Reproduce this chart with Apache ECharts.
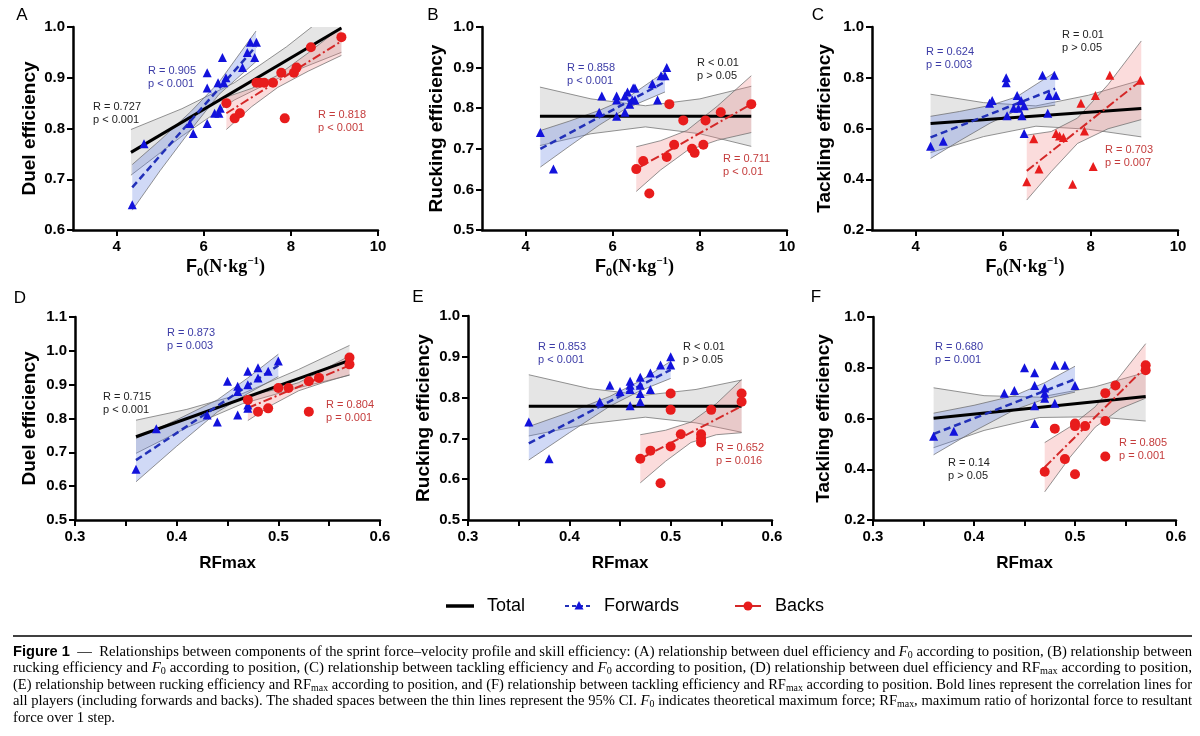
<!DOCTYPE html>
<html>
<head>
<meta charset="UTF-8">
<title>Figure 1</title>
<script src="https://cdn.jsdelivr.net/npm/echarts@6.0.0/dist/echarts.min.js"></script>
<style>
  html, body { margin: 0; background: #fff; }
  #main { width: 1200px; height: 736px; }
</style>
</head>
<body>
<div id="main"></div>
<script>
// ---- data ----
// A: duel efficiency vs F0
const fwdA = [[4.36,0.65],[4.63,0.77],[5.68,0.81],[5.76,0.79],[6.08,0.91],[6.08,0.88],[6.08,0.81],[6.25,0.83],[6.35,0.83],[6.33,0.89],[6.38,0.84],[6.43,0.94],[6.46,0.89],[6.51,0.90],[6.89,0.92],[7.0,0.95],[7.07,0.97],[7.21,0.97],[7.17,0.94]];
const backA = [[6.52,0.85],[6.71,0.82],[6.83,0.83],[7.21,0.89],[7.29,0.89],[7.39,0.89],[7.59,0.89],[7.78,0.91],[7.86,0.82],[8.07,0.91],[8.13,0.92],[8.46,0.96],[9.16,0.98]];
const totalFitA = [[4.33,0.753],[9.16,0.998]];
const fwdFitA = [[4.36,0.684],[7.2,0.962]];
const backFitA = [[6.52,0.83],[9.16,0.972]];
const totalCiA = [[4.33,0.708,0.798],[5.5,0.785,0.839],[6.7,0.856,0.890],[7.9,0.907,0.961],[9.16,0.950,1.046]];
const fwdCiA = [[4.36,0.639,0.729],[5.0,0.717,0.777],[5.7,0.797,0.833],[6.35,0.867,0.891],[7.2,0.932,0.992]];
const backCiA = [[6.52,0.798,0.862],[7.1,0.843,0.879],[7.7,0.881,0.905],[8.4,0.913,0.949],[9.16,0.944,1.0]];

// B: rucking efficiency vs F0
const fwdB = [[4.34,0.74],[4.64,0.65],[5.69,0.79],[5.75,0.83],[6.09,0.78],[6.09,0.82],[6.09,0.83],[6.28,0.79],[6.28,0.83],[6.34,0.84],[6.39,0.81],[6.45,0.82],[6.47,0.85],[6.51,0.82],[6.51,0.85],[6.91,0.86],[7.03,0.82],[7.11,0.88],[7.2,0.88],[7.24,0.90]];
const backB = [[6.54,0.65],[6.70,0.67],[6.84,0.59],[7.24,0.68],[7.30,0.81],[7.41,0.71],[7.62,0.77],[7.82,0.70],[7.88,0.69],[8.08,0.71],[8.13,0.77],[8.48,0.79],[9.18,0.81]];
const totalFitB = [[4.33,0.78],[9.18,0.78]];
const fwdFitB = [[4.34,0.70],[7.2,0.865]];
const backFitB = [[6.54,0.65],[9.18,0.81]];
const totalCiB = [[4.33,0.708,0.852],[5.5,0.737,0.823],[6.75,0.754,0.806],[8.0,0.737,0.823],[9.18,0.706,0.854]];
const fwdCiB = [[4.34,0.655,0.745],[5.0,0.706,0.768],[5.7,0.759,0.795],[6.3,0.799,0.823],[7.2,0.84,0.89]];
const backCiB = [[6.54,0.595,0.705],[7.1,0.648,0.72],[7.7,0.695,0.745],[8.4,0.721,0.805],[9.18,0.74,0.88]];

// C: tackling efficiency vs F0
const fwdC = [[4.34,0.53],[4.63,0.55],[5.69,0.70],[5.75,0.71],[6.07,0.80],[6.07,0.78],[6.09,0.65],[6.32,0.73],[6.24,0.68],[6.35,0.68],[6.41,0.71],[6.48,0.69],[6.43,0.65],[6.48,0.58],[7.02,0.66],[6.90,0.81],[7.17,0.81],[7.05,0.73],[7.21,0.73]];
const backC = [[6.54,0.39],[6.70,0.56],[6.82,0.44],[7.21,0.58],[7.29,0.57],[7.38,0.565],[7.59,0.38],[7.78,0.70],[7.86,0.59],[8.06,0.45],[8.11,0.73],[8.44,0.81],[9.14,0.79]];
const totalFitC = [[4.34,0.62],[9.16,0.679]];
const fwdFitC = [[4.34,0.565],[7.19,0.757]];
const backFitC = [[6.54,0.433],[9.16,0.79]];
const totalCiC = [[4.34,0.505,0.735],[5.55,0.568,0.702],[6.75,0.609,0.689],[7.95,0.597,0.731],[9.16,0.567,0.791]];
const fwdCiC = [[4.34,0.482,0.648],[5.0,0.551,0.667],[5.7,0.621,0.691],[6.3,0.67,0.724],[7.19,0.692,0.822]];
const backCiC = [[6.54,0.318,0.574],[7.1,0.43,0.588],[7.7,0.541,0.641],[8.4,0.599,0.773],[9.16,0.635,0.945]];

// D: duel efficiency vs RFmax
const fwdD = [[0.36,0.65],[0.38,0.77],[0.43,0.81],[0.44,0.79],[0.45,0.91],[0.46,0.895],[0.46,0.88],[0.46,0.81],[0.47,0.94],[0.47,0.90],[0.47,0.84],[0.47,0.83],[0.48,0.95],[0.48,0.92],[0.49,0.94],[0.50,0.97]];
const backD = [[0.47,0.855],[0.48,0.82],[0.49,0.83],[0.50,0.89],[0.51,0.89],[0.53,0.91],[0.53,0.82],[0.54,0.92],[0.57,0.98],[0.57,0.96]];
const totalFitD = [[0.36,0.746],[0.57,0.972]];
const fwdFitD = [[0.36,0.677],[0.50,0.957]];
const backFitD = [[0.47,0.831],[0.57,0.957]];
const totalCiD = [[0.36,0.697,0.795],[0.41,0.773,0.827],[0.465,0.844,0.874],[0.52,0.891,0.945],[0.57,0.928,1.016]];
const fwdCiD = [[0.36,0.613,0.741],[0.40,0.718,0.796],[0.44,0.819,0.855],[0.47,0.874,0.92],[0.50,0.924,0.99]];
const backCiD = [[0.47,0.794,0.868],[0.495,0.842,0.884],[0.52,0.882,0.906],[0.545,0.907,0.945],[0.57,0.929,0.985]];

// E: rucking efficiency vs RFmax
const fwdE = [[0.36,0.74],[0.38,0.65],[0.43,0.79],[0.44,0.83],[0.45,0.815],[0.46,0.84],[0.46,0.83],[0.46,0.82],[0.46,0.78],[0.47,0.85],[0.47,0.83],[0.47,0.81],[0.47,0.79],[0.48,0.86],[0.48,0.82],[0.49,0.88],[0.50,0.90],[0.50,0.88]];
const backE = [[0.47,0.65],[0.48,0.67],[0.49,0.59],[0.50,0.81],[0.50,0.77],[0.50,0.68],[0.51,0.71],[0.53,0.71],[0.53,0.70],[0.53,0.69],[0.54,0.77],[0.57,0.81],[0.57,0.79]];
const totalFitE = [[0.36,0.779],[0.57,0.779]];
const fwdFitE = [[0.36,0.688],[0.50,0.868]];
const backFitE = [[0.47,0.65],[0.57,0.779]];
const totalCiE = [[0.36,0.706,0.856],[0.42,0.736,0.822],[0.475,0.752,0.806],[0.525,0.738,0.82],[0.57,0.715,0.843]];
const fwdCiE = [[0.36,0.647,0.729],[0.40,0.714,0.764],[0.44,0.779,0.803],[0.47,0.817,0.841],[0.50,0.847,0.889]];
const backCiE = [[0.47,0.591,0.709],[0.495,0.644,0.72],[0.52,0.69,0.74],[0.545,0.709,0.785],[0.57,0.714,0.844]];

// F: tackling efficiency vs RFmax
const fwdF = [[0.36,0.53],[0.38,0.55],[0.43,0.70],[0.44,0.71],[0.45,0.80],[0.46,0.78],[0.46,0.73],[0.46,0.65],[0.46,0.58],[0.47,0.72],[0.47,0.70],[0.47,0.68],[0.48,0.81],[0.48,0.66],[0.49,0.81],[0.50,0.73]];
const backF = [[0.47,0.39],[0.48,0.56],[0.49,0.44],[0.50,0.58],[0.50,0.57],[0.50,0.38],[0.51,0.57],[0.53,0.70],[0.53,0.59],[0.53,0.45],[0.54,0.73],[0.57,0.81],[0.57,0.79]];
const totalFitF = [[0.36,0.601],[0.57,0.687]];
const fwdFitF = [[0.36,0.539],[0.50,0.755]];
const backFitF = [[0.47,0.408],[0.57,0.803]];
const totalCiF = [[0.36,0.485,0.721],[0.41,0.553,0.69],[0.465,0.604,0.684],[0.52,0.607,0.725],[0.57,0.59,0.782]];
const fwdCiF = [[0.36,0.457,0.621],[0.40,0.55,0.652],[0.44,0.634,0.69],[0.47,0.677,0.741],[0.50,0.704,0.806]];
const backCiF = [[0.47,0.311,0.505],[0.495,0.447,0.567],[0.52,0.566,0.646],[0.545,0.639,0.769],[0.57,0.68,0.895]];

// axes
const panelLetters = ['A', 'B', 'C', 'D', 'E', 'F'];
const yNames = ['Duel efficiency', 'Rucking efficiency', 'Tackling efficiency', 'Duel efficiency', 'Rucking efficiency', 'Tackling efficiency'];
const yMin = [0.6, 0.5, 0.2, 0.5, 0.5, 0.2];
const yMax = [1.0, 1.0, 1.0, 1.1, 1.0, 1.0];
const yStep = [0.1, 0.1, 0.2, 0.1, 0.1, 0.2];
const f0Ticks = [4, 6, 8, 10];
const rfTicks = [0.3, 0.4, 0.5, 0.6];

// R / p annotations: [forwards, total, backs]
const stats = [
  ['R = 0.905\np < 0.001', 'R = 0.727\np < 0.001', 'R = 0.818\np < 0.001'],
  ['R = 0.858\np < 0.001', 'R < 0.01\np > 0.05', 'R = 0.711\np < 0.01'],
  ['R = 0.624\np = 0.003', 'R = 0.01\np > 0.05', 'R = 0.703\np = 0.007'],
  ['R = 0.873\np = 0.003', 'R = 0.715\np < 0.001', 'R = 0.804\np = 0.001'],
  ['R = 0.853\np < 0.001', 'R < 0.01\np > 0.05', 'R = 0.652\np = 0.016'],
  ['R = 0.680\np = 0.001', 'R = 0.14\np > 0.05', 'R = 0.805\np = 0.001']
];
const legendNames = ['Total', 'Forwards', 'Backs'];

const fwdPts = [fwdA, fwdB, fwdC, fwdD, fwdE, fwdF];
const backPts = [backA, backB, backC, backD, backE, backF];
const totalFits = [totalFitA, totalFitB, totalFitC, totalFitD, totalFitE, totalFitF];
const fwdFits = [fwdFitA, fwdFitB, fwdFitC, fwdFitD, fwdFitE, fwdFitF];
const backFits = [backFitA, backFitB, backFitC, backFitD, backFitE, backFitF];
const totalCis = [totalCiA, totalCiB, totalCiC, totalCiD, totalCiE, totalCiF];
const fwdCis = [fwdCiA, fwdCiB, fwdCiC, fwdCiD, fwdCiE, fwdCiF];
const backCis = [backCiA, backCiB, backCiC, backCiD, backCiE, backCiF];

// ---- layout ----
const BLUE = '#1212dc', RED = '#e81c1c';
const SANS = 'Liberation Sans', SERIF = 'Liberation Serif';

const grids = [
  {left: 73, top: 27, width: 305, height: 203},
  {left: 482, top: 27, width: 305, height: 203},
  {left: 872, top: 27, width: 306, height: 203},
  {left: 75, top: 317, width: 305, height: 203},
  {left: 468, top: 316, width: 304, height: 204},
  {left: 873, top: 317, width: 303, height: 203}
];
const yNameGap = [34, 36, 38, 36, 35, 40];
const letterPos = [[22, 15], [433, 15], [818, 15], [20, 298], [418, 297], [816, 297]];
// top-left of each annotation block: forwards, total, backs
const statPos = [
  [[148, 64], [93, 100], [318, 108]],
  [[567, 61], [697, 56], [723, 152]],
  [[926, 45], [1062, 28], [1105, 143]],
  [[167, 326], [103, 390], [326, 398]],
  [[538, 340], [683, 340], [716, 441]],
  [[935, 340], [948, 456], [1119, 436]]
];
const statColors = ['#3b3ba6', '#222', '#c43c3c'];

const axisLine = {show: true, onZero: false, lineStyle: {color: '#000', width: 2.5}};
const axisTick = {show: true, inside: false, length: 6, lineStyle: {color: '#000', width: 2}};
const tickLabel = {color: '#000', fontFamily: SANS, fontWeight: 'bold', fontSize: 15, margin: 9};

const xAxes = grids.map((g, i) => {
  const top = i < 3;
  return {
    type: 'value', gridIndex: i,
    min: top ? 3 : 0.3, max: top ? 10 : 0.6,
    interval: top ? 1 : 0.05,
    axisLine, splitLine: {show: false},
    axisTick: top ? Object.assign({customValues: f0Ticks}, axisTick) : axisTick,
    axisLabel: Object.assign({customValues: top ? f0Ticks : rfTicks,
      formatter: v => top ? String(v) : v.toFixed(1)}, tickLabel),
    name: top ? '{f|F}{fs|0}{u|(N·kg}{sup|−1}{u|)}' : 'RFmax',
    nameLocation: 'middle', nameGap: top ? 26 : 35,
    nameTextStyle: {
      color: '#000', fontFamily: SANS, fontWeight: 'bold', fontSize: 17,
      rich: {
        f: {fontFamily: SANS, fontWeight: 'bold', fontSize: 18, lineHeight: 22, color: '#000'},
        fs: {fontFamily: SANS, fontWeight: 'bold', fontSize: 11, lineHeight: 12, verticalAlign: 'bottom', color: '#000'},
        u: {fontFamily: SERIF, fontWeight: 'bold', fontSize: 18, lineHeight: 22, color: '#000'},
        sup: {fontFamily: SERIF, fontWeight: 'bold', fontSize: 11, lineHeight: 12, verticalAlign: 'top', color: '#000'}
      }
    }
  };
});

const yAxes = grids.map((g, i) => ({
  type: 'value', gridIndex: i,
  min: yMin[i], max: yMax[i], interval: yStep[i],
  axisLine, axisTick, splitLine: {show: false},
  axisLabel: Object.assign({formatter: v => v.toFixed(1)}, tickLabel, {margin: 8}),
  name: yNames[i], nameLocation: 'middle', nameGap: yNameGap[i],
  nameTextStyle: {color: '#000', fontFamily: SANS, fontWeight: 'bold', fontSize: 19}
}));

function band(i, ci, fill) {
  return {
    type: 'custom', xAxisIndex: i, yAxisIndex: i, clip: true, silent: true, z: 1,
    data: ci, encode: {x: 0, y: [1, 2]},
    renderItem: (params, api) => {
      if (params.dataIndex !== 0) return null;
      const up = ci.map(d => api.coord([d[0], d[2]]));
      const lo = ci.map(d => api.coord([d[0], d[1]]));
      const edge = {stroke: '#666', lineWidth: 0.7, fill: null};
      return {
        type: 'group', children: [
          {type: 'polygon', shape: {points: up.concat(lo.slice().reverse())}, style: {fill: fill}},
          {type: 'polyline', shape: {points: up}, style: edge},
          {type: 'polyline', shape: {points: lo}, style: edge}
        ]
      };
    }
  };
}

function fitLine(i, name, data, color, width, type) {
  return {
    type: 'line', name, xAxisIndex: i, yAxisIndex: i, data, symbol: 'none',
    silent: true, z: 3, lineStyle: {color, width, type}
  };
}

function points(i, name, data, symbol, color, size) {
  return {
    type: 'scatter', name, xAxisIndex: i, yAxisIndex: i, data, symbol, symbolSize: size,
    silent: true, z: 4, itemStyle: {color, opacity: 1}
  };
}

const series = [];
grids.forEach((g, i) => {
  series.push(band(i, totalCis[i], 'rgba(160,160,160,0.28)'));
  series.push(band(i, fwdCis[i], 'rgba(100,130,225,0.30)'));
  series.push(band(i, backCis[i], 'rgba(240,130,130,0.28)'));
  series.push(fitLine(i, legendNames[0], totalFits[i], '#000', 3, 'solid'));
  series.push(fitLine(i, legendNames[1], fwdFits[i], '#2230b8', 2.5, [7, 4]));
  series.push(fitLine(i, legendNames[2], backFits[i], '#d42828', 2, [9, 3, 2, 3]));
  series.push(points(i, legendNames[1], fwdPts[i], 'triangle', BLUE, 9));
  series.push(points(i, legendNames[2], backPts[i], i === 2 ? 'triangle' : 'circle', RED, i === 2 ? 9 : 10));
});

// ---- graphic texts: letters, annotations, legend, caption ----
const graphic = [];
panelLetters.forEach((l, i) => {
  graphic.push({type: 'text', x: letterPos[i][0], y: letterPos[i][1],
    style: {text: l, fontFamily: SANS, fontSize: 17, fill: '#000', align: 'center', verticalAlign: 'middle'}});
  stats[i].forEach((s, k) => {
    graphic.push({type: 'text', x: statPos[i][k][0], y: statPos[i][k][1],
      style: {text: s, fontFamily: SANS, fontSize: 11, lineHeight: 13, fill: statColors[k], align: 'left', verticalAlign: 'top'}});
  });
});

const ly = 606;
graphic.push(
  {type: 'line', shape: {x1: 446, y1: ly, x2: 474, y2: ly}, style: {stroke: '#000', lineWidth: 3.5}},
  {type: 'text', x: 487, y: ly, style: {text: legendNames[0], fontFamily: SANS, fontSize: 18, fill: '#000', verticalAlign: 'middle'}},
  {type: 'line', shape: {x1: 565, y1: ly, x2: 592, y2: ly}, style: {stroke: '#2230b8', lineWidth: 2, lineDash: [4, 3]}},
  {type: 'polygon', shape: {points: [[579, ly - 5], [574.5, ly + 3.5], [583.5, ly + 3.5]]}, style: {fill: BLUE}},
  {type: 'text', x: 604, y: ly, style: {text: legendNames[1], fontFamily: SANS, fontSize: 18, fill: '#000', verticalAlign: 'middle'}},
  {type: 'line', shape: {x1: 735, y1: ly, x2: 761, y2: ly}, style: {stroke: '#d42828', lineWidth: 2}},
  {type: 'circle', shape: {cx: 748, cy: ly, r: 4.5}, style: {fill: RED}},
  {type: 'text', x: 775, y: ly, style: {text: legendNames[2], fontFamily: SANS, fontSize: 18, fill: '#000', verticalAlign: 'middle'}},
  {type: 'line', shape: {x1: 13, y1: 636, x2: 1192, y2: 636}, style: {stroke: '#000', lineWidth: 1.5}}
);

// caption lines as [style, text] segments
const captionLines = [
  [['fig', 'Figure 1'], ['t', '  —  Relationships between components of the sprint force–velocity profile and skill efficiency: (A) relationship between duel efficiency and '], ['it', 'F'], ['sub', '0'], ['t', ' according to position, (B) relationship between']],
  [['t', 'rucking efficiency and '], ['it', 'F'], ['sub', '0'], ['t', ' according to position, (C) relationship between tackling efficiency and '], ['it', 'F'], ['sub', '0'], ['t', ' according to position, (D) relationship between duel efficiency and RF'], ['sub', 'max'], ['t', ' according to position,']],
  [['t', '(E) relationship between rucking efficiency and RF'], ['sub', 'max'], ['t', ' according to position, and (F) relationship between tackling efficiency and RF'], ['sub', 'max'], ['t', ' according to position. Bold lines represent the correlation lines for']],
  [['t', 'all players (including forwards and backs). The shaded spaces between the thin lines represent the 95% CI. '], ['it', 'F'], ['sub', '0'], ['t', ' indicates theoretical maximum force; RF'], ['sub', 'max'], ['t', ', maximum ratio of horizontal force to resultant']],
  [['t', 'force over 1 step.']]
];
const capRich = {
  fig: {fontFamily: SANS, fontWeight: 'bold', fontSize: 14, lineHeight: 16, fill: '#000'},
  t: {fontFamily: SERIF, fontSize: 14, lineHeight: 16, fill: '#000'},
  it: {fontFamily: SERIF, fontStyle: 'italic', fontSize: 14, lineHeight: 16, fill: '#000'},
  sub: {fontFamily: SERIF, fontSize: 9.5, lineHeight: 10, verticalAlign: 'bottom', fill: '#000'}
};
const measureCtx = document.createElement('canvas').getContext('2d');
function segWidth(segs) {
  let w = 0;
  segs.forEach(([k, txt]) => {
    const r = capRich[k];
    measureCtx.font = (r.fontStyle || '') + ' ' + (r.fontWeight || '') + ' ' + r.fontSize + 'px "' + r.fontFamily + '"';
    w += measureCtx.measureText(txt).width;
  });
  return w;
}
const capLeft = 13, capWidth = 1179, capY = [652, 668.5, 685, 701.5, 718];
const scales = captionLines.slice(0, 4).map(segs => capWidth / segWidth(segs));
const avgScale = scales.reduce((a, b) => a + b, 0) / scales.length;
captionLines.forEach((segs, j) => {
  graphic.push({
    type: 'text', x: capLeft, y: capY[j], scaleX: j < 4 ? scales[j] : avgScale,
    style: {
      text: segs.map(([k, txt]) => '{' + k + '|' + txt + '}').join(''),
      rich: capRich, verticalAlign: 'middle', align: 'left', fill: '#000'
    }
  });
});

const option = {
  animation: false,
  backgroundColor: '#fff',
  grid: grids.map(g => Object.assign({outerBoundsMode: 'none', containLabel: false}, g)),
  xAxis: xAxes,
  yAxis: yAxes,
  series,
  graphic
};

echarts.init(document.getElementById('main')).setOption(option);
</script>
</body>
</html>
